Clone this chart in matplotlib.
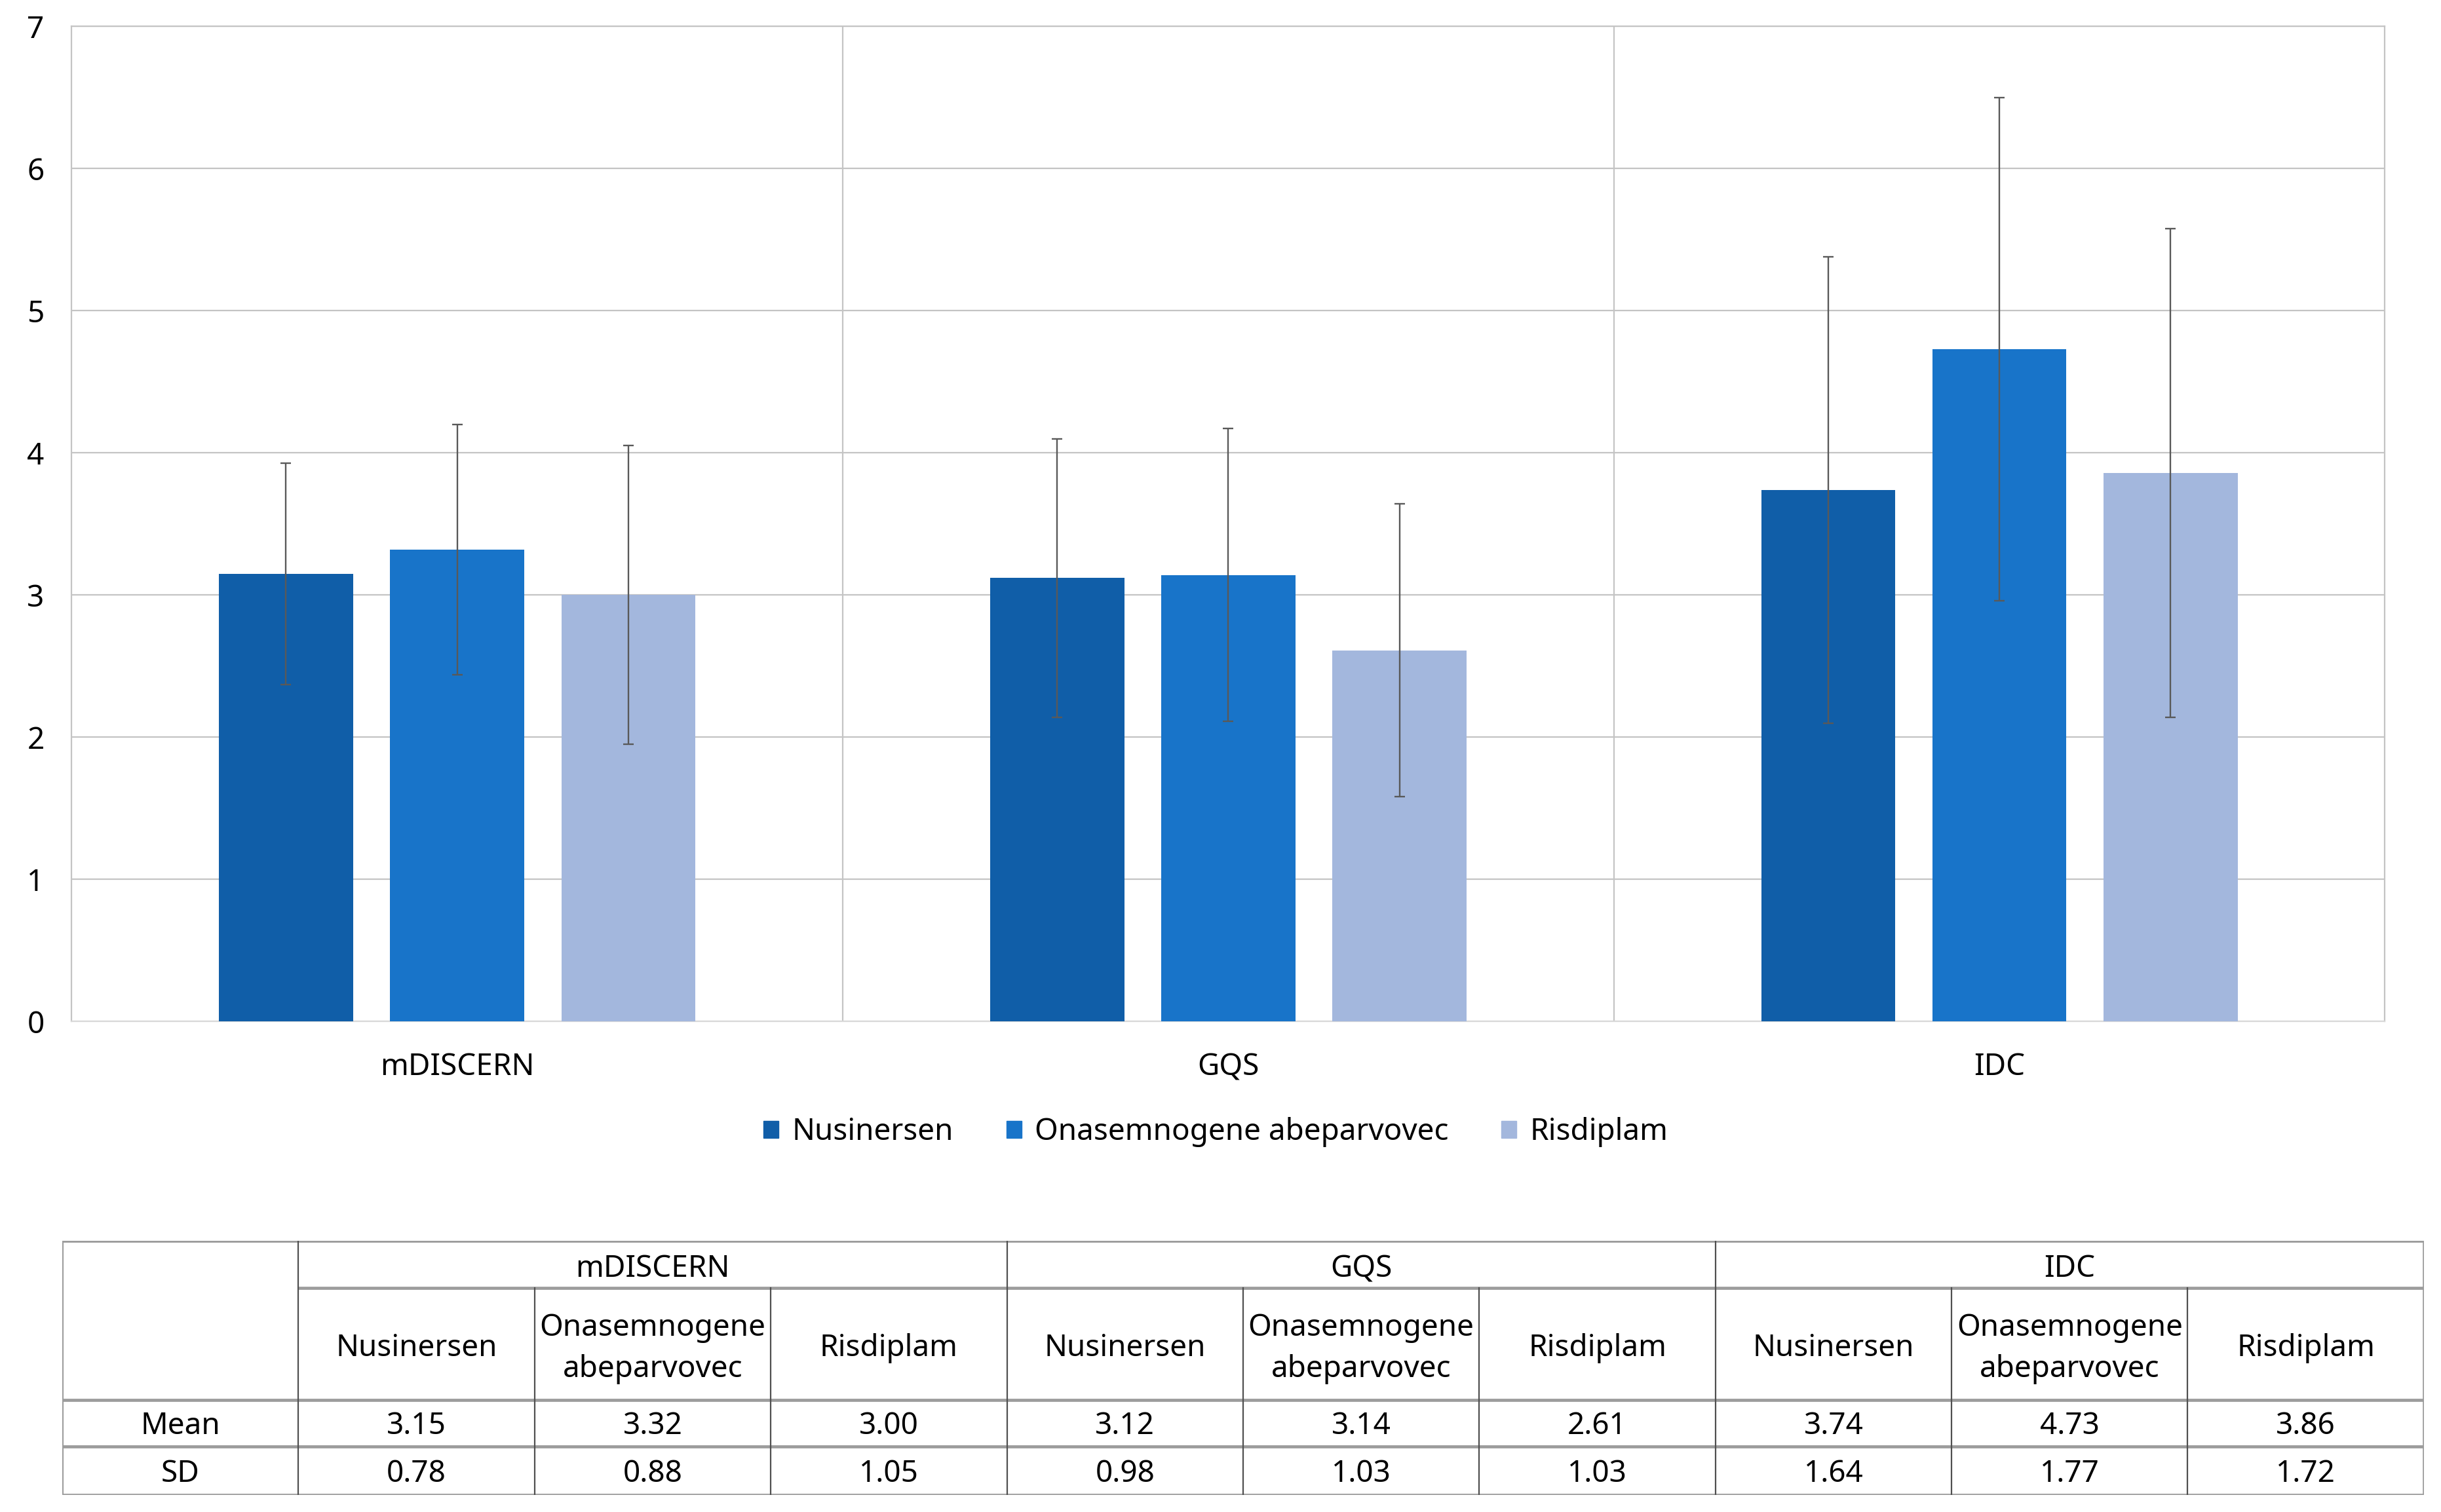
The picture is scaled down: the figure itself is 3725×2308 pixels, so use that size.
import matplotlib
matplotlib.use("Agg")
import matplotlib.pyplot as plt
import numpy as np
from matplotlib.patches import Patch

# data
metrics = ["mDISCERN", "GQS", "IDC"]
drugs = ["Nusinersen", "Onasemnogene abeparvovec", "Risdiplam"]
drug_headers = ["Nusinersen", "Onasemnogene\nabeparvovec", "Risdiplam"]
mean_nus = [3.15, 3.12, 3.74]
mean_ona = [3.32, 3.14, 4.73]
mean_ris = [3.00, 2.61, 3.86]
sd_nus = [0.78, 0.98, 1.64]
sd_ona = [0.88, 1.03, 1.77]
sd_ris = [1.05, 1.03, 1.72]
yticks = [0, 1, 2, 3, 4, 5, 6, 7]

colors = ["#105EA8", "#1874C9", "#A3B7DD"]
grid_c = "#C4C4C4"
font = ["Noto Sans", "DejaVu Sans"]

plt.rcParams["font.family"] = font

W, H = 3725, 2308
fig = plt.figure(figsize=(W / 100, H / 100), dpi=100)

# overview coords (1568 x 971)
def fx(px):
    return px / 1568.0

def fy(py):
    return 1 - py / 971.0

ax = fig.add_axes([fx(46), fy(656), fx(1532) - fx(46), fy(17) - fy(656)])
x = np.arange(len(metrics))
bw = 0.174
off = 0.222
means = [mean_nus, mean_ona, mean_ris]
sds = [sd_nus, sd_ona, sd_ris]
for i in range(3):
    ax.bar(x + (i - 1) * off, means[i], bw, color=colors[i], zorder=3,
           yerr=sds[i], error_kw=dict(ecolor="#595959", elinewidth=1.7,
                                      capsize=6, capthick=1.7, zorder=4))

ax.set_xlim(-0.5, 2.5)
ax.set_ylim(0, 7)
ax.set_yticks(yticks)
ax.set_xticks(x)
ax.set_xticklabels(metrics)
for b in [0.5, 1.5]:
    ax.axvline(b, color=grid_c, lw=1.6, zorder=1)
ax.yaxis.grid(True, color=grid_c, lw=1.6, zorder=1)
ax.set_axisbelow(True)
for s in ["left", "top", "right"]:
    ax.spines[s].set_color(grid_c)
    ax.spines[s].set_linewidth(1.6)
ax.spines["bottom"].set_color("#D9D9D9")
ax.spines["bottom"].set_linewidth(1.6)
ax.tick_params(length=0, labelsize=33, colors="#000000")
ax.tick_params(axis="y", pad=30)
ax.tick_params(axis="x", pad=34)

handles = [Patch(color=colors[i], label=drugs[i]) for i in range(3)]
fig.legend(handles=handles, loc="center", bbox_to_anchor=(fx(781), fy(727)),
           ncol=3, frameon=False, fontsize=33, handlelength=0.5, handleheight=0.5,
           handletextpad=0.45, columnspacing=1.75)

# table
tax = fig.add_axes([fx(40), fy(960), fx(1557) - fx(40), fy(797) - fy(960)])
tax.set_xlim(0, 10)
tax.set_ylim(163, 0)
tax.axis("off")
hc = "#9C9C9C"
vc = "#505050"
hl = 3.4
vl = 1.6
tax.plot([0, 10], [0, 0], color=hc, lw=hl, solid_capstyle="butt")
tax.plot([1, 10], [30, 30], color=hc, lw=hl, solid_capstyle="butt")
for yy in [102, 132, 163]:
    tax.plot([0, 10], [yy, yy], color=hc, lw=hl, solid_capstyle="butt")
tax.plot([0, 0], [0, 163], color=hc, lw=2.2)
tax.plot([10, 10], [0, 163], color=hc, lw=2.6)
for xx in [1, 4, 7]:
    tax.plot([xx, xx], [0, 163], color=vc, lw=vl)
for xx in [2, 3, 5, 6, 8, 9]:
    tax.plot([xx, xx], [30, 163], color=vc, lw=vl)

ts = 33
for k, m in enumerate(metrics):
    tax.text(1 + 3 * k + 1.5, 18, m, ha="center", va="center", fontsize=ts)
    for j in range(3):
        col = 1 + 3 * k + j + 0.5
        tax.text(col, 69, drug_headers[j], ha="center", va="center", fontsize=ts,
                 linespacing=1.5)
        tax.text(col, 119, "%.2f" % means[j][k], ha="center", va="center",
                 fontsize=ts)
        tax.text(col, 149.5, "%.2f" % sds[j][k], ha="center", va="center",
                 fontsize=ts)
tax.text(0.5, 119, "Mean", ha="center", va="center", fontsize=ts)
tax.text(0.5, 149.5, "SD", ha="center", va="center", fontsize=ts)

fig.savefig("out.png", dpi=100, facecolor="white")
